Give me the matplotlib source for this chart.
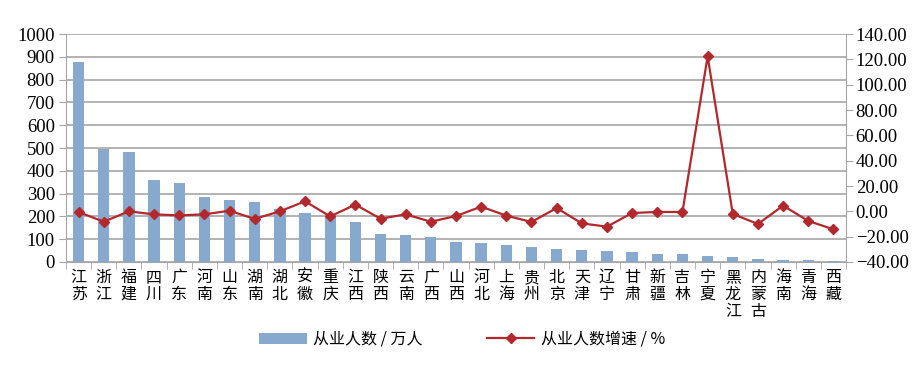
import numpy as np
import matplotlib.pyplot as plt
from matplotlib import font_manager
from matplotlib.ticker import FixedLocator

serif_names = sorted({f.name for f in font_manager.fontManager.ttflist if 'Serif' in f.name or 'Times' in f.name})
num_font = 'Liberation Serif' if 'Liberation Serif' in serif_names else 'DejaVu Serif'
plt.rcParams['font.family'] = [num_font, 'Noto Sans CJK SC']

provinces = ['江苏', '浙江', '福建', '四川', '广东', '河南', '山东', '湖南', '湖北', '安徽',
             '重庆', '江西', '陕西', '云南', '广西', '山西', '河北', '上海', '贵州', '北京',
             '天津', '辽宁', '甘肃', '新疆', '吉林', '宁夏', '黑龙江', '内蒙古', '海南', '青海', '西藏']
workers = [879, 496, 482, 358, 346, 284, 273, 263, 234, 213,
           203, 175, 124, 118, 110, 89, 82, 73, 66, 58,
           54, 50, 45, 37, 35, 26, 20, 15, 9, 7, 4]
growth = [-0.5, -8.2, 0.0, -2.4, -3.2, -2.4, 0.5, -6.0, 0.0, 7.9,
          -4.0, 5.3, -5.8, -2.4, -8.2, -3.7, 3.7, -3.4, -8.4, 2.6,
          -9.5, -12.1, -1.3, -0.5, -0.5, 122.4, -2.1, -10.0, 4.5, -7.6, -14.2]
left_ticks = list(range(0, 1001, 100))
right_ticks = list(range(-40, 141, 20))

bar_color = '#87A9CE'
line_color = '#B3282D'
grid_color = '#A6A6A6'

fig = plt.figure(figsize=(9.24, 3.73), dpi=100)
ax = fig.add_axes([0.0714, 0.2976, 0.8442, 0.6112])
x = np.arange(len(provinces))

b = ax.bar(x, workers, width=0.45, color=bar_color, zorder=2, label='从业人数 / 万人')
ax.set_ylim(0, 1000)
ax.set_xlim(-0.5, len(provinces) - 0.5)
ax.set_yticks(left_ticks)
ax.set_yticklabels([str(v) for v in left_ticks], fontfamily=num_font)
ax.grid(axis='y', color=grid_color, linewidth=1.2, zorder=0)
ax.set_axisbelow(True)

ax.set_xticks(x)
ax.set_xticklabels(['\n'.join(p) for p in provinces], fontsize=11.5,
                   family=['Noto Sans CJK SC'], linespacing=1.0, va='top')
ax.tick_params(axis='x', which='major', length=0, pad=5)
ax.xaxis.set_minor_locator(FixedLocator(np.arange(-0.5, len(provinces), 1)))
ax.tick_params(axis='x', which='minor', length=5, color=grid_color)
ax.tick_params(axis='y', length=5, color=grid_color, labelsize=13.5, pad=3)

for s in ['top', 'right']:
    ax.spines[s].set_visible(False)
for s in ['left', 'bottom']:
    ax.spines[s].set_color(grid_color)

ax2 = ax.twinx()
l, = ax2.plot(x, growth, color=line_color, marker='D', markersize=5.5, linewidth=1.6,
              zorder=3, label='从业人数增速 / %')
ax2.set_ylim(-40, 140)
ax2.set_yticks(right_ticks)
ax2.set_yticklabels([f'{v:.2f}'.replace('-', '\u2212') for v in right_ticks], fontfamily=num_font)
ax2.tick_params(axis='y', length=5, color=grid_color, labelsize=13.5, pad=2)
for s in ['top', 'left', 'bottom']:
    ax2.spines[s].set_visible(False)
ax2.spines['right'].set_color(grid_color)

fig.legend(handles=[b, l], loc='center', bbox_to_anchor=(0.5, 0.09), ncol=2, frameon=False,
           prop={'family': ['Noto Sans CJK SC'], 'size': 11.5}, handlelength=3.0,
           columnspacing=4.0, handletextpad=0.4)

plt.savefig('out.png', dpi=100)
